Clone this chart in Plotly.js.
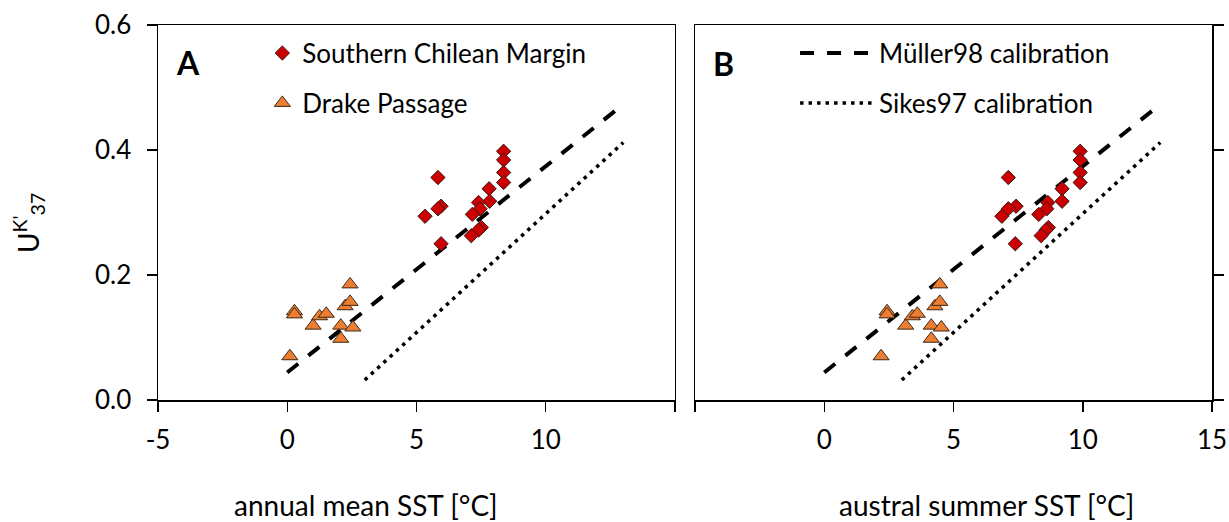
<!DOCTYPE html>
<html><head><meta charset="utf-8">
<script src="https://cdn.plot.ly/plotly-3.0.1.min.js"></script>
<style>body{margin:0;background:#fff}</style></head>
<body><div id="chart" style="width:1229px;height:522px"></div>
<script>
// Southern Chilean Margin (diamonds)
const scmAnnual = [8.37, 8.37, 8.37, 8.37, 5.83, 7.81, 7.83, 7.40, 7.46, 7.16, 5.95, 5.83, 5.33, 7.51, 7.40, 7.12, 5.95];
const scmSummer = [9.9, 9.9, 9.9, 9.9, 7.12, 9.2, 9.2, 8.65, 8.61, 8.3, 7.42, 7.12, 6.87, 8.67, 8.58, 8.39, 7.39];
const scmUk37   = [0.398, 0.384, 0.364, 0.348, 0.356, 0.338, 0.318, 0.316, 0.306, 0.297, 0.310, 0.306, 0.294, 0.276, 0.272, 0.263, 0.250];
// Drake Passage (triangles)
const dpAnnual = [0.10, 0.28, 0.28, 1.00, 1.25, 1.51, 2.07, 2.07, 2.24, 2.43, 2.43, 2.54];
const dpSummer = [2.20, 2.43, 2.43, 3.15, 3.41, 3.60, 4.14, 4.14, 4.28, 4.47, 4.47, 4.53];
const dpUk37   = [0.070, 0.142, 0.137, 0.119, 0.134, 0.138, 0.098, 0.119, 0.150, 0.157, 0.185, 0.116];
// Calibration lines (end points)
const mullerT = [0, 13];
const mullerUk37 = [0.044, 0.473];
const sikesT = [3, 13];
const sikesUk37 = [0.032, 0.412];
// Tick labels
const xTickValsA = [-5, 0, 5, 10];
const xTickTextA = ['-5', '0', '5', '10'];
const xMinorA = [15];
const xTickValsB = [0, 5, 10, 15];
const xTickTextB = ['0', '5', '10', '15'];
const xMinorB = [-5];
const yTickVals = [0, 0.2, 0.4, 0.6];
const yTickText = ['0.0', '0.2', '0.4', '0.6'];

const FONT = 'Lato, "Open Sans", sans-serif';
const diamond = {symbol: 'diamond', size: 11, color: '#CC0000', line: {color: '#3a1a1a', width: 1}};
const triangle = {symbol: 'triangle-up', size: 14, color: '#ED7D31', line: {color: '#3a2a1a', width: 1}};
const dashLine = {color: '#000', width: 4, dash: '14px,13px'};
const dotLine = {color: '#000', width: 3.5, dash: '3.5px,5px'};

const traces = [
  {x: mullerT, y: mullerUk37, xaxis: 'x', yaxis: 'y', mode: 'lines', line: dashLine, showlegend: false, hoverinfo: 'skip'},
  {x: sikesT, y: sikesUk37, xaxis: 'x', yaxis: 'y', mode: 'lines', line: dotLine, showlegend: false, hoverinfo: 'skip'},
  {x: mullerT, y: mullerUk37, xaxis: 'x2', yaxis: 'y2', mode: 'lines', line: dashLine, name: 'Müller98 calibration', legend: 'legend3'},
  {x: sikesT, y: sikesUk37, xaxis: 'x2', yaxis: 'y2', mode: 'lines', line: dotLine, name: 'Sikes97 calibration', legend: 'legend4'},
  {x: scmAnnual, y: scmUk37, xaxis: 'x', yaxis: 'y', mode: 'markers', marker: diamond, name: 'Southern Chilean Margin', legend: 'legend'},
  {x: dpAnnual, y: dpUk37, xaxis: 'x', yaxis: 'y', mode: 'markers', marker: triangle, name: 'Drake Passage', legend: 'legend2'},
  {x: scmSummer, y: scmUk37, xaxis: 'x2', yaxis: 'y2', mode: 'markers', marker: diamond, showlegend: false},
  {x: dpSummer, y: dpUk37, xaxis: 'x2', yaxis: 'y2', mode: 'markers', marker: triangle, showlegend: false}
];

const axisCommon = {
  showline: true, linecolor: '#000', linewidth: 1.5, mirror: true,
  ticks: 'outside', ticklen: 10, tickwidth: 1.5, tickcolor: '#000',
  showgrid: false, zeroline: false, fixedrange: true,
  tickfont: {family: FONT, size: 26, color: '#000'}
};
const minorCommon = {ticks: 'outside', ticklen: 10, tickwidth: 1.5, tickcolor: '#000', showgrid: false};

const legendCommon = {
  font: {family: FONT, size: 26, color: '#000'},
  bgcolor: 'rgba(0,0,0,0)', borderwidth: 0,
  xanchor: 'left', yanchor: 'middle', itemclick: false, itemdoubleclick: false
};

const layout = {
  width: 1229, height: 522,
  margin: {l: 158, r: 17, t: 25, b: 122},
  paper_bgcolor: '#fff', plot_bgcolor: '#fff',
  font: {family: FONT, color: '#000'},
  xaxis: Object.assign({}, axisCommon, {domain: [0, 0.4905], range: [-5, 15], tickmode: 'array', tickvals: xTickValsA, ticktext: xTickTextA, anchor: 'y', ticklabelstandoff: 6,
    minor: Object.assign({}, minorCommon, {tickmode: 'array', tickvals: xMinorA})}),
  yaxis: Object.assign({}, axisCommon, {domain: [0, 1], range: [0, 0.6], tickmode: 'array', tickvals: yTickVals, ticktext: yTickText, anchor: 'x', ticklabelstandoff: 10}),
  xaxis2: Object.assign({}, axisCommon, {domain: [0.5095, 1], range: [-5, 15], tickmode: 'array', tickvals: xTickValsB, ticktext: xTickTextB, anchor: 'y2', ticklabelstandoff: 6,
    minor: Object.assign({}, minorCommon, {tickmode: 'array', tickvals: xMinorB})}),
  yaxis2: Object.assign({}, axisCommon, {domain: [0, 1], range: [0, 0.6], tickmode: 'array', tickvals: yTickVals, anchor: 'x2', side: 'right', showticklabels: false}),
  legend: Object.assign({}, legendCommon, {x: 0.099, y: 0.925}),
  legend2: Object.assign({}, legendCommon, {x: 0.099, y: 0.792}),
  legend3: Object.assign({}, legendCommon, {x: 0.6044, y: 0.925, itemwidth: 74}),
  legend4: Object.assign({}, legendCommon, {x: 0.6044, y: 0.792, itemwidth: 74}),
  annotations: [
    {text: '<b>A</b>', xref: 'paper', yref: 'paper', x: 0.0285, y: 0.899, showarrow: false, xanchor: 'center', yanchor: 'middle', font: {family: FONT, size: 32, color: '#000'}},
    {text: '<b>B</b>', xref: 'paper', yref: 'paper', x: 0.537, y: 0.896, showarrow: false, xanchor: 'center', yanchor: 'middle', font: {family: FONT, size: 32, color: '#000'}},
    {text: 'annual mean SST [°C]', xref: 'paper', yref: 'paper', x: 0.197, y: -0.28, showarrow: false, xanchor: 'center', yanchor: 'middle', font: {family: FONT, size: 28, color: '#000'}},
    {text: 'austral summer SST [°C]', xref: 'paper', yref: 'paper', x: 0.7865, y: -0.28, showarrow: false, xanchor: 'center', yanchor: 'middle', font: {family: FONT, size: 28, color: '#000'}},
    {text: "U<sup>K'</sup><sub>37</sub>", xref: 'paper', yref: 'paper', x: -0.1233, y: 0.472, showarrow: false, textangle: -90, xanchor: 'center', yanchor: 'middle', font: {family: FONT, size: 28, color: '#000'}}
  ]
};

Plotly.newPlot('chart', traces, layout, {staticPlot: true, displayModeBar: false});
</script>
</body></html>
